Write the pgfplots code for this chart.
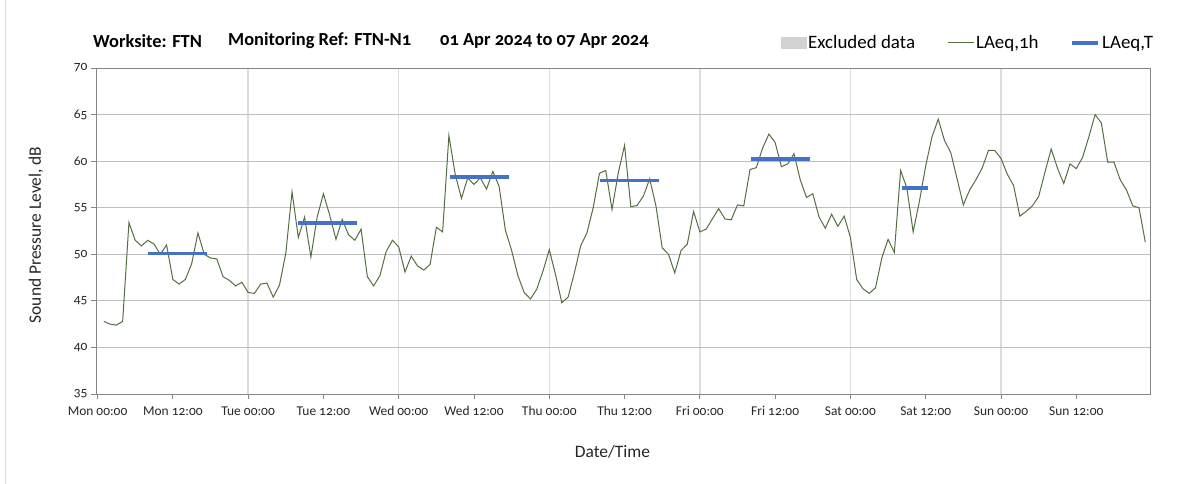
\documentclass[border=0pt]{standalone}
\usepackage{pgfplots}
\pgfplotsset{compat=1.18}
\usepackage{pgfplotstable}
\usepackage{fontspec}
\setmainfont{Carlito}[Numbers=OldStyle]
\definecolor{lineg}{RGB}{84,110,66}
\definecolor{bl}{RGB}{68,114,196}
\definecolor{gridc}{RGB}{191,191,191}
\definecolor{vgrid}{RGB}{220,220,220}
\definecolor{axc}{RGB}{134,134,134}
\definecolor{excl}{RGB}{210,210,210}

\pgfplotstableread{
h v
1 42.8
2 42.5
3 42.4
4 42.8
5 53.4
6 51.5
7 50.9
8 51.5
9 51.1
10 50.0
11 51.0
12 47.3
13 46.8
14 47.3
15 49.0
16 52.3
17 50.0
18 49.6
19 49.5
20 47.6
21 47.2
22 46.6
23 47.0
24 45.9
25 45.8
26 46.8
27 46.9
28 45.4
29 46.7
30 50.1
31 56.7
32 51.8
33 54.0
34 49.7
35 54.0
36 56.5
37 54.2
38 51.6
39 53.75
40 52.1
41 51.5
42 52.7
43 47.6
44 46.6
45 47.7
46 50.3
47 51.5
48 50.8
49 48.1
50 49.8
51 48.75
52 48.3
53 48.9
54 52.9
55 52.4
56 62.75
57 58.6
58 56.0
59 58.2
60 57.5
61 58.2
62 57.0
63 58.9
64 57.3
65 52.6
66 50.4
67 47.7
68 45.9
69 45.2
70 46.25
71 48.2
72 50.5
73 47.8
74 44.8
75 45.4
76 48.0
77 50.9
78 52.3
79 55.0
80 58.7
81 59.0
82 54.8
83 58.75
84 61.7
85 55.1
86 55.25
87 56.25
88 58.1
89 55.2
90 50.7
91 50.0
92 48.0
93 50.4
94 51.1
95 54.6
96 52.4
97 52.7
98 53.8
99 54.9
100 53.8
101 53.7
102 55.3
103 55.2
104 59.1
105 59.3
106 61.4
107 62.9
108 62.0
109 59.4
110 59.7
111 60.8
112 58.0
113 56.1
114 56.5
115 54.0
116 52.8
117 54.3
118 53.0
119 54.1
120 51.8
121 47.3
122 46.3
123 45.8
124 46.4
125 49.6
126 51.6
127 50.2
128 59.0
129 57.1
130 52.4
131 55.7
132 59.5
133 62.6
134 64.5
135 62.2
136 60.9
137 58.1
138 55.3
139 56.9
140 58.0
141 59.25
142 61.15
143 61.15
144 60.3
145 58.6
146 57.4
147 54.1
148 54.6
149 55.2
150 56.2
151 58.8
152 61.3
153 59.25
154 57.6
155 59.7
156 59.2
157 60.4
158 62.6
159 65.0
160 64.1
161 59.9
162 59.9
163 58.0
164 56.9
165 55.2
166 55.0
167 51.3
}\laeqh

\pgfplotstableread{
h v
8 50.1
17.4 50.1
17.5 nan
32 53.35
41.4 53.35
41.5 nan
56.1 58.3
65.5 58.3
65.6 nan
80.1 57.9
89.5 57.9
89.6 nan
104.1 60.25
113.5 60.25
113.6 nan
128.2 57.1
132.4 57.1
}\laeqt

\begin{document}
\begin{tikzpicture}
\path[use as bounding box] (0,0) rectangle (1203bp,484bp);
\draw[black!15, line width=1bp] (5.5bp,0bp) -- (5.5bp,484bp);
\node[anchor=west, inner sep=0pt, font=\fontsize{18.5}{21}\selectfont\bfseries] at (93bp,443bp) {Worksite: FTN};
\node[anchor=west, inner sep=0pt, font=\fontsize{18.5}{21}\selectfont\bfseries] at (228bp,443bp) {Monitoring Ref: FTN-N1};
\node[anchor=west, inner sep=0pt, font=\fontsize{18.5}{21}\selectfont\bfseries] at (440bp,443bp) {01 Apr 2024 to 07 Apr 2024};
\begin{axis}[
  at={(96bp,90bp)}, anchor=south west,
  scale only axis, width=1054bp, height=326bp,
  xmin=-0.25, xmax=167.75, ymin=35, ymax=70,
  xtick={0,12,...,156},
  xticklabels={Mon 00:00,Mon 12:00,Tue 00:00,Tue 12:00,Wed 00:00,Wed 12:00,Thu 00:00,Thu 12:00,Fri 00:00,Fri 12:00,Sat 00:00,Sat 12:00,Sun 00:00,Sun 12:00},
  ytick={35,40,...,70},
  minor xtick={24,48,...,144},
  xminorgrids=true, ymajorgrids=true, xmajorgrids=false,
  minor grid style={vgrid, line width=1.3bp},
  major grid style={gridc, line width=0.9bp},
  axis line style={axc, line width=0.9bp},
  tick style={axc, line width=0.9bp},
  major tick length=5bp, minor tick length=0pt,
  tick align=outside,
  xtick pos=bottom, ytick pos=left,
  /pgf/number format/assume math mode=true,
  tick label style={font=\fontsize{13.5}{16}\selectfont, text=black!85},
  xticklabel style={yshift=-4bp},
  xlabel={Date/Time},
  ylabel={Sound Pressure Level, dB},
  label style={font=\fontsize{17.5}{20}\selectfont, text=black!85},
  xlabel style={at={(axis description cs:0.49,-0.178)}, anchor=center},
  ylabel style={at={(axis description cs:-0.057,0.488)}, anchor=center},
  unbounded coords=jump,
  legend columns=3,
  legend style={at={(axis description cs:1.005,1.077)}, anchor=east, draw=none, fill=none, inner sep=0pt,
    font=\fontsize{19}{22}\selectfont,
    /tikz/every even column/.append style={column sep=30bp}},
  legend image code/.code={\draw[#1] (0bp,0bp) -- (26bp,0bp);},
]
\addlegendimage{legend image code/.code={\fill[excl] (0bp,-5.5bp) rectangle (25bp,5.5bp);}}
\addlegendentry{Excluded data}
\addplot[lineg, line width=1bp] table[x=h, y=v] {\laeqh};
\addlegendentry{LAeq,1h}
\addplot[bl, line width=3.5bp] table[x=h, y=v] {\laeqt};
\addlegendentry{LAeq,T}
\end{axis}
\end{tikzpicture}
\end{document}
